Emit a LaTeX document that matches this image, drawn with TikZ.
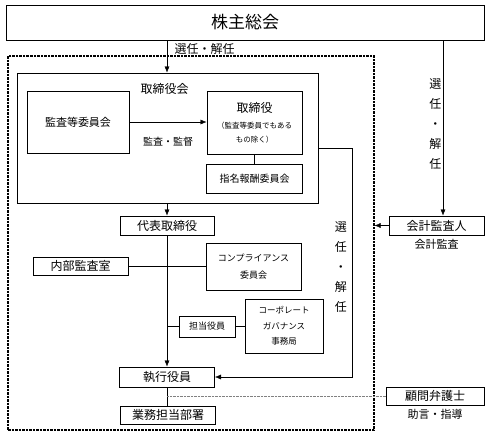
\documentclass[tikz,border=0pt]{standalone}
\usepackage{fontspec}
\setmainfont{Noto Sans CJK JP}
\usetikzlibrary{arrows.meta}
\tikzset{>={Latex[length=6pt,width=5pt]}, line width=0.8pt}
\tikzset{
  box/.style={draw,line width=1pt,inner sep=1pt},
  txt/.style={font=\fontsize{12}{14}\selectfont},
  small/.style={font=\fontsize{11}{13}\selectfont},
  tiny/.style={font=\fontsize{9}{17}\selectfont},
  vert/.style={font=\fontsize{12}{20}\selectfont,align=center,inner sep=1.5pt},
}
\newcommand{\subfs}{\fontsize{7.5}{13}\selectfont}

\begin{document}
\begin{tikzpicture}[x=1pt,y=-1pt]
  \useasboundingbox (0,0) rectangle (490,440);
  \def\xmid{167}

  % General meeting
  \node[box,minimum width=478,minimum height=35,font=\fontsize{17}{20}\selectfont] (gm) at (245,22.5) {株主総会};

  % Company (dashed frame)
  \node[draw,line width=1.2pt,dash pattern=on 2.5pt off 1pt,minimum width=366,minimum height=374,inner sep=0] (company) at (191,243) {};

  % Board of directors
  \node[box,minimum width=301,minimum height=130,txt,
        label={[txt,anchor=north,yshift=-7pt,xshift=-3pt]north:取締役会}] (board) at (167.5,138) {};
  \node[box,minimum width=102,minimum height=62,small] (aud) at (78,122) {監査等委員会};
  \node[box,minimum width=95,minimum height=63,align=center,font=\fontsize{12}{14}\selectfont] (dir) at (254.5,122.5)
    {取締役\\[2pt]\subfs （監査等委員でもある\\\subfs もの除く）};
  \node[box,minimum width=96,minimum height=29,font=\fontsize{10}{12}\selectfont] (nom) at (254.5,178.5) {指名報酬委員会};
  \draw[->] (aud.east) -- node[below=12pt,font=\fontsize{10}{12}\selectfont] {監査・監督} (aud.east -| dir.west);
  \draw (dir.south) -- (nom.north);

  % Executive line
  \node[box,minimum width=94,minimum height=19,txt] (rep) at (\xmid,225.5) {代表取締役};
  \node[box,minimum width=95,minimum height=18,txt] (ia) at (80.5,266) {内部監査室};
  \node[box,minimum width=95,minimum height=47,tiny,align=center] (comp) at (253.5,266.5) {コンプライアンス\\委員会};
  \node[box,minimum width=56,minimum height=21,font=\fontsize{9}{11}\selectfont] (tan) at (207,326.5) {担当役員};
  \node[box,minimum width=78,minimum height=54,font=\fontsize{8.5}{15.5}\selectfont,align=center] (cg) at (284,326) {コーポレート\\ガバナンス\\事務局};
  \node[box,minimum width=95,minimum height=20,txt] (exe) at (\xmid,377) {執行役員};
  \node[box,minimum width=95,minimum height=18,txt] (biz) at (168,415) {業務担当部署};

  % Outside
  \node[box,minimum width=95,minimum height=19,txt,
        label={[small]below:会計監査}] (acc) at (436.5,225.5) {会計監査人};
  \node[box,minimum width=98,minimum height=18,txt,
        label={[small]below:助言・指導}] (law) at (435,396) {顧問弁護士};

  % Connectors
  \draw[->] (rep.north |- gm.south) -- node[pos=0.27,right=4pt,txt] {選任・解任} (rep.north |- board.north);
  \draw[->] (rep.north |- board.south) -- (rep.north);
  \draw[->] (rep.south) -- (exe.north);
  \draw (ia.east) -- (ia.east -| comp.west);
  \draw (rep.south |- tan.west) -- (tan.west);
  \draw (tan.east) -- (tan.east -| cg.west);
  \draw (exe.south) -- (exe.south |- biz.north);
  \draw[densely dotted,gray] (exe.south |- law.west) -- (law.west);

  \draw[->] ([xshift=6.5pt]acc.north |- gm.south) -- node[pos=0.48,left,vert] {選\\任\\・\\解\\任} ([xshift=6.5pt]acc.north);
  \draw[->] (acc.west) -- (acc.west -| company.east);
  \draw[->] ([yshift=-10pt]board.east) -- ++(34,0) |- node[pos=0.26,left=4pt,vert] {選\\任\\・\\解\\任} (exe.east);
\end{tikzpicture}
\end{document}
